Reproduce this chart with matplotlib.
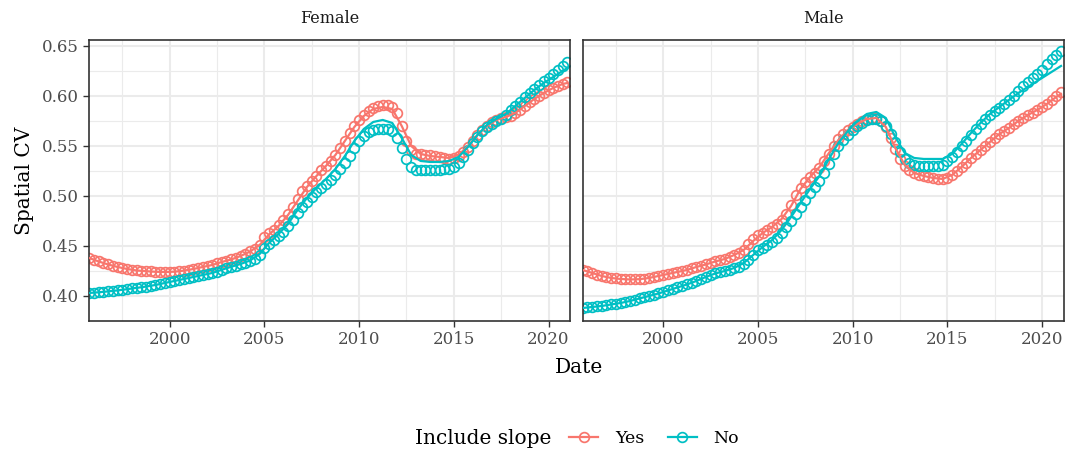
import matplotlib
matplotlib.use("Agg")
import matplotlib.pyplot as plt
from matplotlib.lines import Line2D
import numpy as np

# quarterly time grid (decimal years) for the observed CV, half-yearly grid for the fitted curve
quarters = np.arange(1995.75, 2021.01, 0.25)
fit_years = np.append(np.arange(1995.75, 2020.8, 0.5), 2021.0)

female_yes = [
    0.438, 0.436, 0.4345, 0.433, 0.4315, 0.430, 0.429, 0.428, 0.427, 0.426,
    0.4255, 0.425, 0.4248, 0.4245, 0.4242, 0.424, 0.424, 0.424, 0.4243, 0.4248,
    0.4253, 0.426, 0.427, 0.428, 0.429, 0.430, 0.431, 0.4325, 0.434, 0.435,
    0.4365, 0.438, 0.440, 0.442, 0.4445, 0.447, 0.451, 0.459, 0.4625, 0.466,
    0.471, 0.476, 0.482, 0.489, 0.497, 0.505, 0.510, 0.515, 0.520, 0.526,
    0.530, 0.535, 0.541, 0.548, 0.555, 0.563, 0.570, 0.576, 0.581, 0.585,
    0.588, 0.590, 0.591, 0.591, 0.589, 0.583, 0.570, 0.555, 0.546, 0.542,
    0.5415, 0.541, 0.5405, 0.540, 0.539, 0.538, 0.537, 0.538, 0.540, 0.544,
    0.549, 0.555, 0.561, 0.566, 0.570, 0.574, 0.576, 0.578, 0.579, 0.580,
    0.583, 0.586, 0.590, 0.594, 0.597, 0.600, 0.603, 0.606, 0.608, 0.610,
    0.612, 0.614,
]
female_no = [
    0.403, 0.4033, 0.4037, 0.4042, 0.4046, 0.405, 0.4056, 0.4062, 0.4068, 0.4075,
    0.4081, 0.4087, 0.4094, 0.410, 0.411, 0.412, 0.413, 0.414, 0.415, 0.416,
    0.417, 0.418, 0.419, 0.420, 0.421, 0.422, 0.423, 0.424, 0.426, 0.428,
    0.429, 0.430, 0.4315, 0.433, 0.435, 0.437, 0.441, 0.448, 0.452, 0.456,
    0.460, 0.464, 0.470, 0.476, 0.483, 0.489, 0.494, 0.499, 0.504, 0.508,
    0.512, 0.516, 0.521, 0.527, 0.533, 0.540, 0.548, 0.555, 0.560, 0.564,
    0.566, 0.567, 0.567, 0.567, 0.565, 0.558, 0.548, 0.537, 0.529, 0.526,
    0.5255, 0.5255, 0.5255, 0.526, 0.526, 0.5265, 0.527, 0.529, 0.533, 0.539,
    0.546, 0.553, 0.559, 0.565, 0.569, 0.572, 0.575, 0.577, 0.581, 0.586,
    0.590, 0.594, 0.599, 0.603, 0.607, 0.611, 0.615, 0.618, 0.622, 0.626,
    0.630, 0.634,
]
male_yes = [
    0.426, 0.4245, 0.423, 0.421, 0.420, 0.419, 0.418, 0.4175, 0.417, 0.4165,
    0.4165, 0.4165, 0.4168, 0.417, 0.418, 0.419, 0.420, 0.421, 0.422, 0.423,
    0.424, 0.425, 0.426, 0.4275, 0.429, 0.430, 0.4315, 0.433, 0.4345, 0.436,
    0.437, 0.439, 0.441, 0.443, 0.446, 0.452, 0.457, 0.461, 0.463, 0.466,
    0.469, 0.472, 0.476, 0.482, 0.491, 0.501, 0.508, 0.514, 0.519, 0.523,
    0.528, 0.535, 0.542, 0.550, 0.557, 0.562, 0.566, 0.569, 0.572, 0.575,
    0.577, 0.578, 0.578, 0.575, 0.569, 0.558, 0.547, 0.537, 0.530, 0.526,
    0.523, 0.521, 0.520, 0.519, 0.518, 0.517, 0.5165, 0.518, 0.521, 0.525,
    0.529, 0.533, 0.538, 0.542, 0.546, 0.550, 0.554, 0.558, 0.562, 0.565,
    0.568, 0.572, 0.575, 0.578, 0.581, 0.583, 0.586, 0.589, 0.592, 0.596,
    0.600, 0.604,
]
male_no = [
    0.388, 0.3885, 0.389, 0.3895, 0.390, 0.391, 0.3915, 0.392, 0.393, 0.394,
    0.395, 0.396, 0.3975, 0.399, 0.400, 0.401, 0.4025, 0.404, 0.4055, 0.407,
    0.4085, 0.410, 0.4115, 0.413, 0.415, 0.417, 0.419, 0.421, 0.4225, 0.424,
    0.425, 0.426, 0.4275, 0.429, 0.432, 0.436, 0.441, 0.446, 0.448, 0.451,
    0.454, 0.458, 0.463, 0.469, 0.475, 0.482, 0.489, 0.496, 0.503, 0.509,
    0.515, 0.523, 0.532, 0.542, 0.550, 0.556, 0.561, 0.566, 0.570, 0.573,
    0.576, 0.577, 0.577, 0.575, 0.570, 0.562, 0.554, 0.544, 0.537, 0.533,
    0.531, 0.530, 0.530, 0.530, 0.530, 0.530, 0.531, 0.535, 0.539, 0.544,
    0.550, 0.555, 0.561, 0.567, 0.572, 0.577, 0.581, 0.585, 0.588, 0.592,
    0.596, 0.600, 0.605, 0.610, 0.614, 0.618, 0.622, 0.626, 0.632, 0.637,
    0.641, 0.645,
]

# fitted curves
female_yes_fit = [
    0.438, 0.4345, 0.4315, 0.429, 0.427, 0.4255, 0.4248, 0.4242, 0.424, 0.4243,
    0.4253, 0.427, 0.429, 0.431, 0.434, 0.4365, 0.440, 0.4445, 0.451, 0.4615,
    0.470, 0.481, 0.495, 0.509, 0.520, 0.530, 0.541, 0.555, 0.569, 0.580,
    0.587, 0.589, 0.587, 0.570, 0.550, 0.542, 0.540, 0.539, 0.538, 0.541,
    0.550, 0.561, 0.570, 0.576, 0.579, 0.583, 0.590, 0.597, 0.603, 0.608,
    0.612, 0.613,
]
female_no_fit = [
    0.403, 0.4037, 0.4046, 0.4056, 0.4068, 0.4081, 0.4094, 0.411, 0.413, 0.415,
    0.417, 0.419, 0.421, 0.423, 0.4262, 0.4292, 0.432, 0.4355, 0.442, 0.453,
    0.462, 0.472, 0.486, 0.498, 0.508, 0.517, 0.527, 0.540, 0.555, 0.567,
    0.574, 0.576, 0.573, 0.558, 0.541, 0.535, 0.534, 0.534, 0.535, 0.539,
    0.549, 0.561, 0.571, 0.577, 0.582, 0.590, 0.598, 0.606, 0.613, 0.619,
    0.625, 0.628,
]
male_yes_fit = [
    0.426, 0.423, 0.420, 0.418, 0.417, 0.4165, 0.4168, 0.418, 0.420, 0.422,
    0.424, 0.426, 0.429, 0.4315, 0.4345, 0.437, 0.441, 0.446, 0.455, 0.463,
    0.469, 0.477, 0.490, 0.507, 0.519, 0.529, 0.543, 0.556, 0.566, 0.572,
    0.577, 0.578, 0.569, 0.548, 0.531, 0.523, 0.520, 0.518, 0.517, 0.521,
    0.529, 0.538, 0.546, 0.554, 0.562, 0.568, 0.575, 0.581, 0.586, 0.592,
    0.599, 0.602,
]
male_no_fit = [
    0.388, 0.389, 0.390, 0.3915, 0.393, 0.395, 0.3975, 0.400, 0.4025, 0.4055,
    0.4085, 0.4115, 0.415, 0.419, 0.4225, 0.425, 0.428, 0.433, 0.441, 0.449,
    0.456, 0.466, 0.479, 0.493, 0.507, 0.520, 0.537, 0.553, 0.565, 0.575,
    0.582, 0.584, 0.578, 0.559, 0.543, 0.538, 0.537, 0.537, 0.537, 0.542,
    0.552, 0.563, 0.573, 0.582, 0.589, 0.596, 0.603, 0.609, 0.615, 0.621,
    0.627, 0.630,
]

panels = ["Female", "Male"]
slope_labels = ["Yes", "No"]
colors = {"Yes": "#F8766D", "No": "#00BFC4"}
points = {"Female": {"Yes": female_yes, "No": female_no},
          "Male": {"Yes": male_yes, "No": male_no}}
fits = {"Female": {"Yes": female_yes_fit, "No": female_no_fit},
        "Male": {"Yes": male_yes_fit, "No": male_no_fit}}

x_major = [2000, 2005, 2010, 2015, 2020]
x_minor = [1997.5, 2002.5, 2007.5, 2012.5, 2017.5]
y_major = [0.40, 0.45, 0.50, 0.55, 0.60, 0.65]
y_minor = [0.425, 0.475, 0.525, 0.575, 0.625]

plt.rcParams['font.family'] = ['DejaVu Serif']

fig, axes = plt.subplots(1, 2, sharey=True, figsize=(10.68, 4.54), dpi=100)
fig.subplots_adjust(left=0.0833, right=0.9963, bottom=0.293, top=0.912, wspace=0.025)

for ax, panel in zip(axes, panels):
    for v in x_minor:
        ax.axvline(v, color="#EBEBEB", lw=0.8, zorder=0)
    for v in y_minor:
        ax.axhline(v, color="#EBEBEB", lw=0.8, zorder=0)
    for v in x_major:
        ax.axvline(v, color="#EBEBEB", lw=1.5, zorder=0)
    for v in y_major:
        ax.axhline(v, color="#EBEBEB", lw=1.5, zorder=0)

    for s in slope_labels:
        ax.plot(quarters, points[panel][s], ls="none", marker="o", ms=7,
                mfc="none", mec=colors[s], mew=1.25, zorder=2)
    for s in slope_labels:
        ax.plot(fit_years, fits[panel][s], color=colors[s], lw=1.6, zorder=3)

    ax.set_xlim(1995.74, 2021.16)
    ax.set_ylim(0.375, 0.656)
    ax.set_xticks(x_major)
    ax.set_yticks(y_major)
    ax.set_yticklabels([f"{v:.2f}" for v in y_major])
    ax.tick_params(axis="both", colors="#333333", labelcolor="#4D4D4D",
                   labelsize=12, length=4, width=1.0)
    for sp in ax.spines.values():
        sp.set_color("#333333")
        sp.set_linewidth(1.2)
    ax.set_title(panel, fontsize=11.5, color="#1A1A1A", pad=12)

axes[1].tick_params(axis="y", left=False)

axes[0].set_ylabel("Spatial CV", fontsize=14.5, labelpad=5)
fig.text(0.5425, 0.19, "Date", ha="center", va="center", fontsize=14.5)

# legend: title on the left, keys to its right
fig.text(0.389, 0.035, "Include slope", ha="left", va="center", fontsize=14.5)
handles = [Line2D([], [], color=colors[s], lw=1.6, marker="o", ms=7,
                  mfc="none", mec=colors[s], mew=1.25) for s in slope_labels]
fig.legend(handles, slope_labels, loc="center left", bbox_to_anchor=(0.518, 0.035),
           ncol=2, frameon=False, fontsize=12.5, handlelength=1.7,
           columnspacing=1.35, handletextpad=0.95)

fig.savefig("out.png", dpi=100)
